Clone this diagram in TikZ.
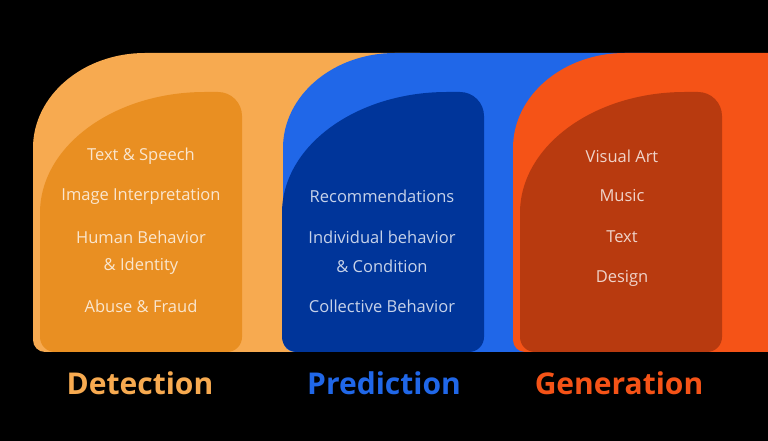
\documentclass[tikz,border=0pt]{standalone}
\usepackage{fontspec}
\setmainfont{Open Sans}
\usetikzlibrary{positioning}

\definecolor{detLight}{HTML}{F7AA50}
\definecolor{detDark}{HTML}{E98F22}
\definecolor{preLight}{HTML}{2067E8}
\definecolor{preDark}{HTML}{00359A}
\definecolor{genLight}{HTML}{F55317}
\definecolor{genDark}{HTML}{B83A0F}

\tikzset{
    item/.style={text=white, text opacity=0.78, font=\fontsize{16.5}{19}\selectfont, inner sep=0pt},
    title/.style={font=\fontsize{30}{33}\selectfont\bfseries, inner sep=0pt}
}

\begin{document}
\begin{tikzpicture}[x=1pt, y=1pt]
    % Background
    \fill[black] (0,0) rectangle (768,441);
    \useasboundingbox (0,0) rectangle (768,441);

    % Outer shapes, each one running under the next
    \foreach \L/\R/\c in {33/420/detLight, 283/650/preLight, 513/768/genLight} {
            \fill[\c] (\L,101) -- (\L,293)
                arc[start angle=180, end angle=90, x radius=112pt, y radius=95pt]
                -- (\R,388) -- (\R,89) -- ({\L+12},89)
                arc[start angle=270, end angle=180, radius=12pt] -- cycle;
        }

    % Inner shapes
    \foreach \L/\c in {40/detDark, 282/preDark, 520/genDark} {
            \fill[\c] (\L,104) -- (\L,228)
                arc[start angle=180, end angle=90, x radius=165pt, y radius=121pt]
                -- ({\L+178},349)
                arc[start angle=90, end angle=0, radius=24pt]
                -- ({\L+202},104)
                arc[start angle=0, end angle=-90, radius=15pt]
                -- ({\L+15},89)
                arc[start angle=270, end angle=180, radius=15pt] -- cycle;
        }

    % Detection
    \node[item] (speech) at (141,285) {Text \& Speech};
    \node[item] (image) at (141,245) {Image Interpretation};
    \node[item] (human) at (141,204) {Human Behavior};
    \node[item] (identity) at (141,175) {\& Identity};
    \node[item] (abuse) at (141,135) {Abuse \& Fraud};

    % Prediction
    \node[item] (recom) at (382,245) {Recommendations};
    \node[item] (indiv) at (382,204) {Individual behavior};
    \node[item] (cond) at (382,175) {\& Condition};
    \node[item] (collect) at (382,135) {Collective Behavior};

    % Generation
    \node[item] (art) at (622,285) {Visual Art};
    \node[item] (music) at (622,245) {Music};
    \node[item] (text) at (622,204) {Text};
    \node[item] (design) at (622,163) {Design};

    % Titles
    \node[title, text=detLight] (detection) at (140,58) {Detection};
    \node[title, text=preLight] (prediction) at (384,58) {Prediction};
    \node[title, text=genLight] (generation) at (619,58) {Generation};
\end{tikzpicture}
\end{document}
